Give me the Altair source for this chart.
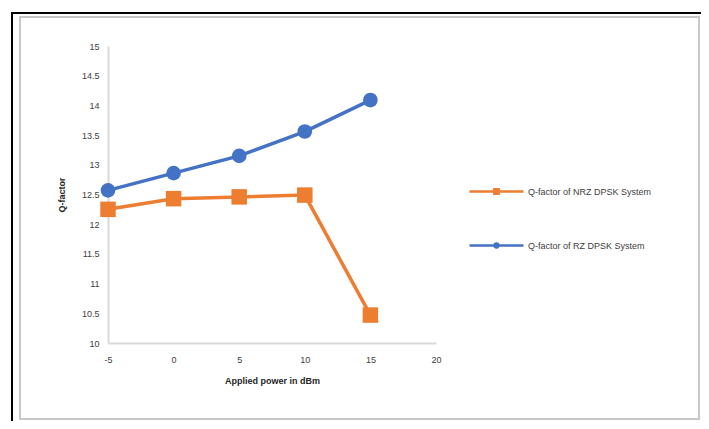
import altair as alt
import pandas as pd

power = [-5, 0, 5, 10, 15]
nrz_q = [12.25, 12.43, 12.46, 12.49, 10.47]
rz_q = [12.57, 12.86, 13.15, 13.56, 14.09]
series = ["Q-factor of NRZ DPSK System", "Q-factor of RZ DPSK System"]
colors = ["#ED7D31", "#4472C4"]
x_ticks = [-5, 0, 5, 10, 15, 20]
y_ticks = [10, 10.5, 11, 11.5, 12, 12.5, 13, 13.5, 14, 14.5, 15]

rows = []
for p, v in zip(power, nrz_q):
    rows.append({"power": p, "q": v, "series": series[0]})
for p, v in zip(power, rz_q):
    rows.append({"power": p, "q": v, "series": series[1]})
df = pd.DataFrame(rows)

FONT = "Liberation Sans Narrow, Liberation Sans, sans-serif"

x = alt.X("power:Q", scale=alt.Scale(domain=[-5, 20], nice=False),
          axis=alt.Axis(values=x_ticks, title="Applied power in dBm", ticks=False, grid=False,
                        labelExpr="datum.value + ''",
                        domainColor="#d9d9d9", domainWidth=2, labelPadding=12,
                        labelFontSize=9, labelColor="#404040", labelFont=FONT,
                        titleFont=FONT, titleFontSize=9, titleFontWeight="bold",
                        titleColor="#262626", titlePadding=12, labelFlush=False))
y = alt.Y("q:Q", scale=alt.Scale(domain=[10, 15], nice=False, zero=False),
          axis=alt.Axis(values=y_ticks, title="Q-factor", ticks=False, grid=False,
                        labelExpr="datum.value + ''",
                        domainColor="#d9d9d9", domainWidth=2, labelPadding=9,
                        labelFontSize=9, labelColor="#404040", labelFont=FONT,
                        titleFont=FONT, titleFontSize=9, titleFontWeight="bold",
                        titleColor="#262626", titlePadding=15))
color_scale = alt.Scale(domain=series, range=colors)

lines = alt.Chart(df).mark_line(strokeWidth=3.5).encode(
    x=x, y=y, color=alt.Color("series:N", scale=color_scale, legend=None),
    detail="series:N")

pts_nrz = alt.Chart(df).transform_filter(alt.datum.series == series[0]).mark_point(
    filled=True, opacity=1, strokeWidth=0, shape="square", size=240).encode(
    x=x, y=y, color=alt.Color("series:N", scale=color_scale, legend=None))
pts_rz = alt.Chart(df).transform_filter(alt.datum.series == series[1]).mark_point(
    filled=True, opacity=1, strokeWidth=0, shape="circle", size=215).encode(
    x=x, y=y, color=alt.Color("series:N", scale=color_scale, legend=None))

legend_paths = [
    "M-1,0H1M-0.08,-0.08H0.08V0.08H-0.08Z",
    "M-1,0H1M0.07,0A0.07,0.07 0 1,1 -0.07,0A0.07,0.07 0 1,1 0.07,0Z",
]
leg = alt.Legend(
    title=None, orient="none", legendX=360, legendY=117, padding=0,
    symbolSize=2916, rowPadding=18, labelOffset=3, labelFontSize=9, labelFont=FONT,
    labelColor="#404040", symbolStrokeWidth=2.5, symbolOpacity=1)
legend_layer = alt.Chart(df).mark_point(filled=False, size=0, strokeWidth=2.5).encode(
    x=x, y=y,
    color=alt.Color("series:N", scale=color_scale, legend=leg),
    shape=alt.Shape("series:N", scale=alt.Scale(domain=series, range=legend_paths), legend=leg))

frame_data = alt.Data(values=[{"k": 1}])
outer = alt.Chart(frame_data).mark_rect(fill="transparent", stroke="black", strokeWidth=2).encode(
    x=alt.value(-96), y=alt.value(-33), x2=alt.value(800), y2=alt.value(600))
inner = alt.Chart(frame_data).mark_rect(fill="transparent", stroke="#c8c8c8", strokeWidth=2).encode(
    x=alt.value(-88), y=alt.value(-29), x2=alt.value(591), y2=alt.value(373))

chart = alt.layer(outer, inner, legend_layer, lines, pts_nrz, pts_rz).properties(
    width=328, height=297,
    autosize=alt.AutoSizeParams(type="none"),
    padding={"left": 100, "top": 38, "right": 265, "bottom": 78},
    background="white",
).configure_view(stroke=None)

chart.save("out.html", embed_options={"renderer": "svg", "actions": False})
